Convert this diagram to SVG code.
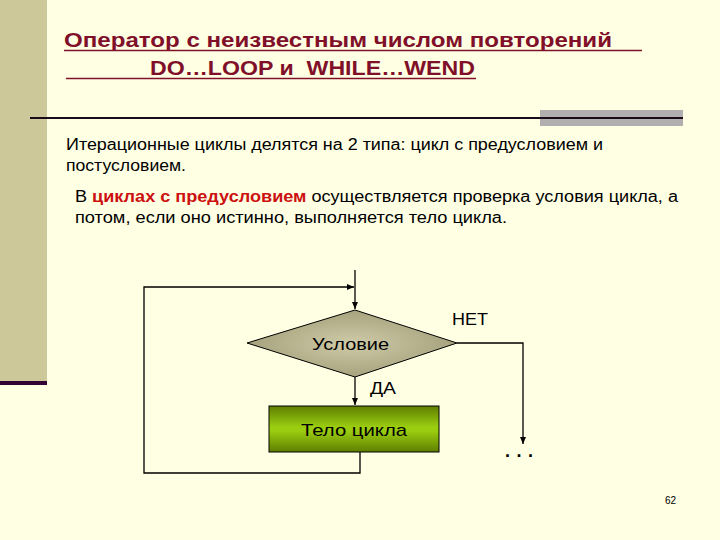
<svg xmlns="http://www.w3.org/2000/svg" width="720" height="540" viewBox="0 0 720 540">
<style>
.t{font-family:"Liberation Sans",Arial,sans-serif}
.title{font-size:19.5px;font-weight:bold;fill:#80102A}
.ul{stroke:#80102A;stroke-width:1.6}
.body{font-size:16px;fill:#000}
.ln{stroke:#000;stroke-width:1.3;fill:none}
</style>
<defs>
<marker id="ah" markerWidth="8" markerHeight="8" refX="7" refY="4" orient="auto" markerUnits="userSpaceOnUse">
<path d="M0,1 L7,4 L0,7 Z" fill="#000"/>
</marker>
<radialGradient id="dg" cx="0.5" cy="0.5" r="0.6">
<stop offset="0" stop-color="#CFCBA8"/>
<stop offset="1" stop-color="#9E9A75"/>
</radialGradient>
<linearGradient id="bg" x1="0" y1="0" x2="0" y2="1">
<stop offset="0" stop-color="#5E7E00"/>
<stop offset="0.45" stop-color="#9ACC10"/>
<stop offset="0.55" stop-color="#9ACC10"/>
<stop offset="1" stop-color="#5E7E00"/>
</linearGradient>
</defs>
<rect width="720" height="540" fill="#FFFFE3"/>
<rect x="0" y="0" width="47" height="382" fill="#CCC89A"/>
<rect x="0" y="381" width="47" height="4" fill="#330033"/>
<rect x="540" y="110" width="143" height="16" fill="#B1AEB0"/>
<line x1="30" y1="118" x2="683" y2="118" stroke="#1A0A1A" stroke-width="2"/>

<g id="title">
<text class="t title" x="64" y="47" textLength="548" lengthAdjust="spacingAndGlyphs">Оператор с неизвестным числом повторений</text>
<line class="ul" x1="64" y1="50.5" x2="642" y2="50.5"/>
<text class="t title" x="150" y="75" textLength="325" lengthAdjust="spacingAndGlyphs" xml:space="preserve">DO…LOOP и  WHILE…WEND</text>
<line class="ul" x1="66" y1="78.5" x2="476" y2="78.5"/>
</g>
<g id="intro">
<text class="t body" x="66" y="149.5" textLength="537" lengthAdjust="spacingAndGlyphs">Итерационные циклы делятся на 2 типа: цикл с предусловием и</text>
<text class="t body" x="66" y="170.5" textLength="120" lengthAdjust="spacingAndGlyphs">постусловием.</text>
<text class="t body" x="75" y="201.5" textLength="603" lengthAdjust="spacingAndGlyphs">В <tspan font-weight="bold" fill="#CC1111">циклах с предусловием</tspan> осуществляется проверка условия цикла, а</text>
<text class="t body" x="75" y="222.5" textLength="432" lengthAdjust="spacingAndGlyphs">потом, если оно истинно, выполняется тело цикла.</text>
</g>

<g id="connectors">
<line class="ln" x1="355" y1="270" x2="355" y2="309" marker-end="url(#ah)"/>
<polyline class="ln" points="360,452 360,473 144,473 144,287 354,287" marker-end="url(#ah)"/>
<line class="ln" x1="355" y1="377" x2="355" y2="405" marker-end="url(#ah)"/>
<polyline class="ln" points="457,343 523,343 523,444" marker-end="url(#ah)"/>
</g>

<g id="condition">
<polygon points="355,310 457,343 355,377 247,343" fill="url(#dg)" stroke="#000" stroke-width="1"/>
<text class="t" x="312" y="350" font-size="16.5" textLength="77" lengthAdjust="spacingAndGlyphs">Условие</text>
</g>
<g id="body">
<rect x="269" y="406" width="170" height="46" fill="url(#bg)" stroke="#000" stroke-width="1"/>
<text class="t" x="301" y="436" font-size="17" textLength="106" lengthAdjust="spacingAndGlyphs">Тело цикла</text>
</g>
<g id="labels">
<text class="t" x="452" y="325" font-size="16.5" textLength="36" lengthAdjust="spacingAndGlyphs">НЕТ</text>
<text class="t" x="370" y="394" font-size="16.5" textLength="26" lengthAdjust="spacingAndGlyphs">ДА</text>
<text class="t" x="505" y="457" font-size="18" font-weight="bold" letter-spacing="6.5">...</text>
<text class="t" x="665" y="504" font-size="10">62</text>
</g>
</svg>
